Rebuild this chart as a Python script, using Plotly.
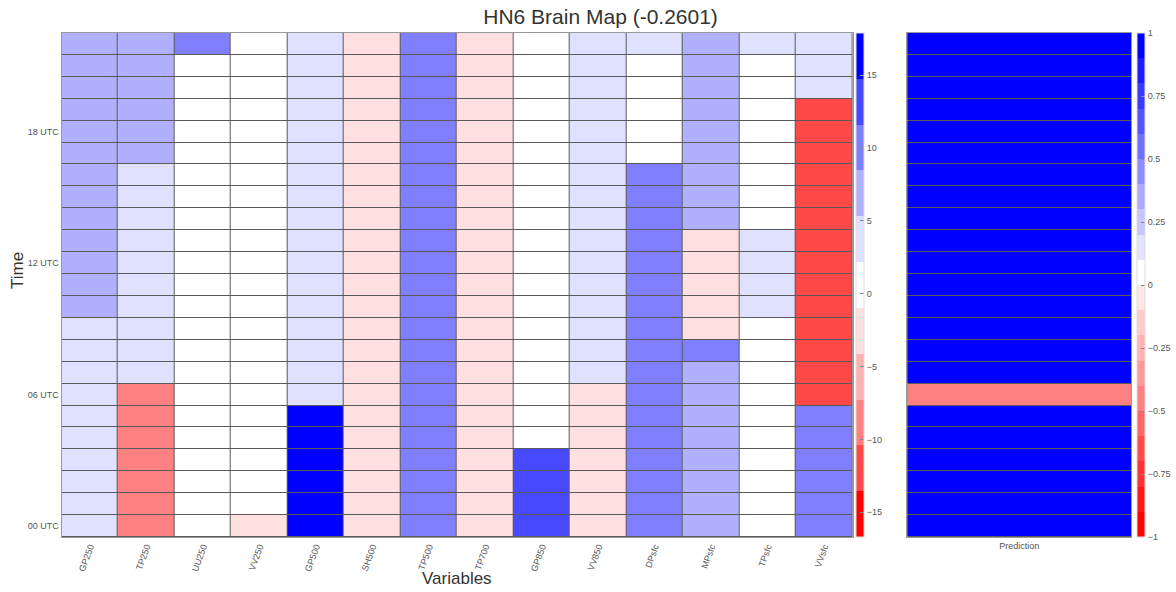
import plotly.graph_objects as go

# ---------------- data ----------------
variables = ["GP250", "TP250", "UU250", "VV250", "GP500", "SH500", "TP500",
             "TP700", "GP850", "VV850", "DPsfc", "MPsfc", "TPsfc", "VVsfc"]
hours = list(range(23))  # 00 UTC .. 22 UTC
hour_tick_vals = [0, 6, 12, 18]
hour_tick_text = ["00 UTC", "06 UTC", "12 UTC", "18 UTC"]

# values per variable, hour 0 -> hour 22
gp250 = [3.5, 3.5, 3.5, 3.5, 3.5, 3.5, 3.5, 3.5, 3.5, 3.5, 7, 7, 7, 7, 7, 7, 7, 7, 7, 7, 7, 7, 7]
tp250 = [-9, -9, -9, -9, -9, -9, -9, 3.5, 3.5, 3.5, 3.5, 3.5, 3.5, 3.5, 3.5, 3.5, 3.5, 7, 7, 7, 7, 7, 7]
uu250 = [0, 0, 0, 0, 0, 0, 0, 0, 0, 0, 0, 0, 0, 0, 0, 0, 0, 0, 0, 0, 0, 0, 10]
vv250 = [-2.5, 0, 0, 0, 0, 0, 0, 0, 0, 0, 0, 0, 0, 0, 0, 0, 0, 0, 0, 0, 0, 0, 0]
gp500 = [16.5, 16.5, 16.5, 16.5, 16.5, 16.5, 3.5, 3.5, 3.5, 3.5, 3.5, 3.5, 3.5, 3.5, 3.5, 3.5, 3.5, 3.5, 3.5, 3.5, 3.5, 3.5, 3.5]
sh500 = [-2.5, -2.5, -2.5, -2.5, -2.5, -2.5, -2.5, -2.5, -2.5, -2.5, -2.5, -2.5, -2.5, -2.5, -2.5, -2.5, -2.5, -2.5, -2.5, -2.5, -2.5, -2.5, -2.5]
tp500 = [10, 10, 10, 10, 10, 10, 10, 10, 10, 10, 10, 10, 10, 10, 10, 10, 10, 10, 10, 10, 10, 10, 10]
tp700 = [-2.5, -2.5, -2.5, -2.5, -2.5, -2.5, -2.5, -2.5, -2.5, -2.5, -2.5, -2.5, -2.5, -2.5, -2.5, -2.5, -2.5, -2.5, -2.5, -2.5, -2.5, -2.5, -2.5]
gp850 = [13, 13, 13, 13, 0, 0, 0, 0, 0, 0, 0, 0, 0, 0, 0, 0, 0, 0, 0, 0, 0, 0, 0]
vv850 = [-2.5, -2.5, -2.5, -2.5, -2.5, -2.5, -2.5, 3.5, 3.5, 3.5, 3.5, 3.5, 3.5, 3.5, 3.5, 3.5, 3.5, 3.5, 3.5, 3.5, 3.5, 3.5, 3.5]
dpsfc = [10, 10, 10, 10, 10, 10, 10, 10, 10, 10, 10, 10, 10, 10, 10, 10, 10, 0, 0, 0, 0, 0, 3.5]
mpsfc = [7, 7, 7, 7, 7, 7, 7, 7, 10, -2.5, -2.5, -2.5, -2.5, -2.5, 7, 7, 7, 7, 7, 7, 7, 7, 7]
tpsfc = [0, 0, 0, 0, 0, 0, 0, 0, 0, 0, 3.5, 3.5, 3.5, 3.5, 0, 0, 0, 0, 0, 0, 0, 0, 3.5]
vvsfc = [10, 10, 10, 10, 10, 10, -12, -12, -12, -12, -12, -12, -12, -12, -12, -12, -12, -12, -12, -12, 3.5, 3.5, 3.5]

prediction = [0.95, 0.95, 0.95, 0.95, 0.95, 0.95, -0.45, 0.95, 0.95, 0.95, 0.95, 0.95,
              0.95, 0.95, 0.95, 0.95, 0.95, 0.95, 0.95, 0.95, 0.95, 0.95, 0.95]

score_text = "HN6 Brain Map (-0.2601)"

columns = [gp250, tp250, uu250, vv250, gp500, sh500, tp500,
           tp700, gp850, vv850, dpsfc, mpsfc, tpsfc, vvsfc]
z_main = [list(row) for row in zip(*columns)]
z_pred = [[v] for v in prediction]

# ---------------- styles ----------------
colors_main = ["rgb(255,0,0)", "rgb(255,72,72)", "rgb(255,128,128)", "rgb(255,176,176)",
               "rgb(255,224,224)", "rgb(255,255,255)", "rgb(224,224,255)", "rgb(176,176,255)",
               "rgb(128,128,255)", "rgb(72,72,255)", "rgb(0,0,255)"]
colors_pred = ["rgb(255,0,0)", "rgb(255,26,26)", "rgb(255,51,51)", "rgb(255,77,77)",
               "rgb(255,102,102)", "rgb(255,128,128)", "rgb(255,153,153)", "rgb(255,179,179)",
               "rgb(255,204,204)", "rgb(255,230,230)",
               "rgb(255,255,255)", "rgb(227,227,255)", "rgb(198,198,255)", "rgb(170,170,255)",
               "rgb(142,142,255)", "rgb(113,113,255)", "rgb(85,85,255)", "rgb(57,57,255)",
               "rgb(28,28,255)", "rgb(0,0,255)"]


def discrete(colors):
    n = len(colors)
    scale = []
    for i, c in enumerate(colors):
        scale.append([i / n, c])
        scale.append([(i + 1) / n, c])
    return scale


W, H = 1176, 592
SX = 1176 / 1169.0  # small horizontal correction
FONT = "Liberation Sans, Arial, Helvetica, sans-serif"
ydom = [1 - 537 / H, 1 - 33 / H]


def px(x):
    return min(1.0, x * SX / W)


fig = go.Figure()
fig.add_trace(go.Heatmap(
    z=z_main, x=variables, y=hours, xaxis="x", yaxis="y",
    colorscale=discrete(colors_main), zmin=-16.7, zmax=17.9,
    xgap=1, ygap=1,
    colorbar=dict(x=px(860), xanchor="left", xpad=0, ypad=0,
                  y=(ydom[0] + ydom[1]) / 2, yanchor="middle", len=ydom[1] - ydom[0],
                  thickness=8, outlinewidth=1, outlinecolor="#ddd",
                  tickvals=[-15, -10, -5, 0, 5, 10, 15], ticks="inside", ticklen=4,
                  tickcolor="#888", tickfont=dict(size=9, color="#555", family=FONT)),
))
fig.add_trace(go.Heatmap(
    z=z_pred, x=["Prediction"], y=hours, xaxis="x2", yaxis="y2",
    colorscale=discrete(colors_pred), zmin=-1, zmax=1,
    ygap=1,
    colorbar=dict(x=px(1143), xanchor="left", xpad=0, ypad=0,
                  y=(ydom[0] + ydom[1]) / 2, yanchor="middle", len=ydom[1] - ydom[0],
                  thickness=8, outlinewidth=1, outlinecolor="#ddd",
                  tickvals=[-1, -0.75, -0.5, -0.25, 0, 0.25, 0.5, 0.75, 1],
                  ticks="inside", ticklen=4, tickcolor="#888",
                  tickfont=dict(size=9, color="#555", family=FONT)),
))

axis_common = dict(showgrid=False, zeroline=False, showline=True, mirror=True,
                   linecolor="#999", linewidth=1, ticks="",
                   tickfont=dict(size=9, color="#555", family=FONT))

fig.update_layout(
    width=W, height=H,
    margin=dict(l=0, r=0, t=0, b=0),
    paper_bgcolor="white", plot_bgcolor="#5a5a5a",
    font=dict(family=FONT, color="#333"),
    title=dict(text=score_text, x=px(597), xanchor="center", y=1 - 17 / H, yanchor="middle",
               font=dict(size=21, color="#333", family=FONT)),
    xaxis=dict(domain=[px(62), px(857)], anchor="y", tickangle=-70, automargin=False,
               **axis_common),
    yaxis=dict(domain=ydom, anchor="x", range=[-0.5, 22.5], tickvals=hour_tick_vals,
               ticktext=hour_tick_text, automargin=False, **axis_common),
    xaxis2=dict(domain=[px(912), px(1137)], anchor="y2", tickangle=0, automargin=False,
                **axis_common),
    yaxis2=dict(domain=ydom, anchor="x2", range=[-0.5, 22.5], showticklabels=False,
                automargin=False, **axis_common),
    annotations=[
        dict(text="Variables", x=px(459.5), y=1 - 578 / H, xref="paper", yref="paper",
             showarrow=False, xanchor="center", yanchor="middle",
             font=dict(size=17, color="#333", family=FONT)),
        dict(text="Time", x=px(17), y=1 - 270 / H, xref="paper", yref="paper",
             showarrow=False, xanchor="center", yanchor="middle", textangle=-90,
             font=dict(size=17, color="#333", family=FONT)),
    ],
)

fig.write_html("out.html")
